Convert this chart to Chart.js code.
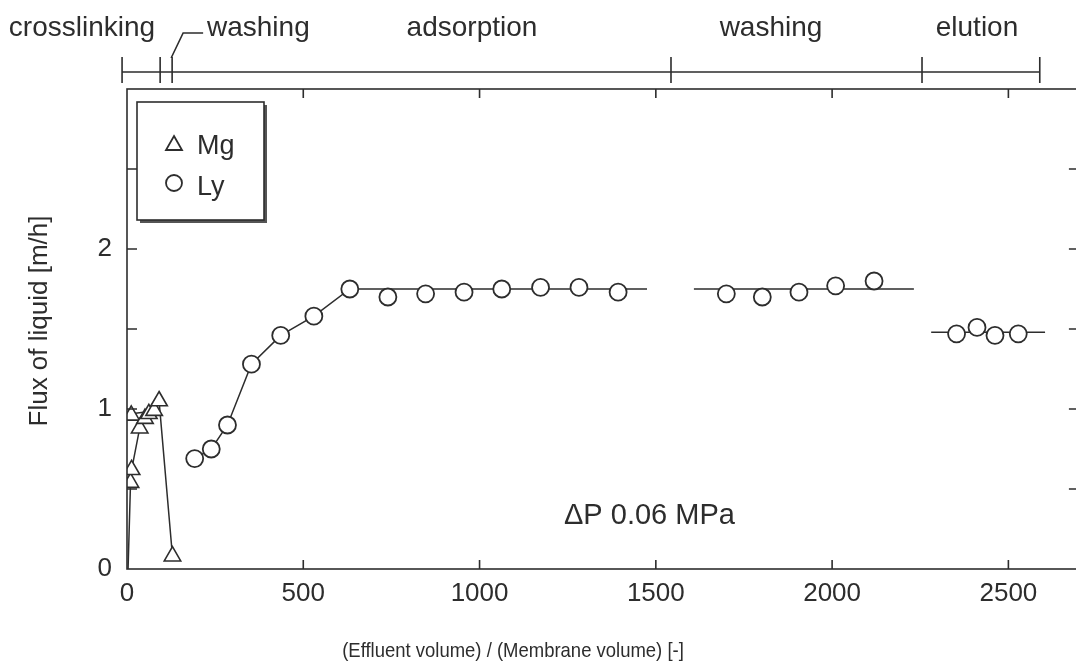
<!DOCTYPE html>
<html>
<head>
<meta charset="utf-8">
<script src="https://cdn.jsdelivr.net/npm/chart.js@4"></script>
<style>
  html, body { margin: 0; background: #fff; overflow: hidden; }
  canvas { display: block; }
</style>
</head>
<body>
<canvas id="flux-graph" width="1090" height="664"></canvas>
<script>
// values
const mgVolume = [10, 13, 12, 36, 51, 62, 77, 91, 129]
const mgFlux   = [0.54, 0.62, 0.96, 0.88, 0.94, 0.97, 0.99, 1.05, 0.08]

const lyVolume = [192, 239, 285, 353, 436, 530, 632, 740, 847, 956, 1063, 1173, 1282, 1393,
                  1700, 1802, 1906, 2010, 2119,
                  2353, 2411, 2462, 2528]
const lyFlux   = [0.69, 0.75, 0.90, 1.28, 1.46, 1.58, 1.75, 1.70, 1.72, 1.73, 1.75, 1.76, 1.76, 1.73,
                  1.72, 1.70, 1.73, 1.77, 1.80,
                  1.47, 1.51, 1.46, 1.47]

// connecting lines drawn in the figure (null = break)
const mgLineVolume = [3, 10, 13, 36, 51, 62, 77, 91, 129, null, 12, 88]
const mgLineFlux   = [0, 0.54, 0.62, 0.88, 0.94, 0.97, 0.99, 1.05, 0.08, null, 0.97, 0.99]
const lyLineVolume = [192, 239, 285, 353, 436, 530, 632, 1475, null, 1608, 2232, null, 2281, 2604]
const lyLineFlux   = [0.69, 0.75, 0.90, 1.28, 1.46, 1.58, 1.75, 1.75, null, 1.75, 1.75, null, 1.48, 1.48]

const xTicks = [0, 500, 1000, 1500, 2000, 2500]
const yTicks = [0, 1, 2]

const phaseNames  = ['crosslinking', 'washing', 'adsorption', 'washing', 'elution']
const phaseBounds = [-14, 94, 128, 1543, 2255, 2589]

const ink = '#2d2d2d'
const font = '"Liberation Sans", Arial, Helvetica, sans-serif'

function toPoints(xs, ys){
    return xs.map((v, i) => (v === null ? { x: null, y: null } : { x: v, y: ys[i] }))
}

const decorations = {
    id: 'decorations',
    afterDraw(chart){
        const { ctx, chartArea: a, scales: { x, y } } = chart
        ctx.save()
        ctx.strokeStyle = ink
        ctx.fillStyle = ink
        ctx.lineWidth = 1.6

        // frame
        ctx.strokeRect(a.left, a.top, a.right - a.left, a.bottom - a.top)

        // inward ticks
        ctx.beginPath()
        x.ticks.forEach(t => {
            if (t.value <= 0) return
            const px = x.getPixelForValue(t.value)
            ctx.moveTo(px, a.bottom); ctx.lineTo(px, a.bottom - 9)
            ctx.moveTo(px, a.top); ctx.lineTo(px, a.top + 9)
        })
        y.ticks.forEach(t => {
            if (t.value <= 0 || t.value >= 3) return
            const py = y.getPixelForValue(t.value)
            ctx.moveTo(a.left, py); ctx.lineTo(a.left + 10, py)
            ctx.moveTo(a.right, py); ctx.lineTo(a.right - 10, py)
        })
        ctx.stroke()

        // phase bar on top
        const barY = 72
        ctx.beginPath()
        ctx.moveTo(x.getPixelForValue(phaseBounds[0]), barY)
        ctx.lineTo(x.getPixelForValue(phaseBounds[phaseBounds.length - 1]), barY)
        phaseBounds.forEach(b => {
            const px = x.getPixelForValue(b)
            ctx.moveTo(px, 57); ctx.lineTo(px, 83)
        })
        // leader to the short washing step
        const wx = x.getPixelForValue(phaseBounds[2])
        ctx.moveTo(wx - 1, 58); ctx.lineTo(wx + 11, 33); ctx.lineTo(wx + 31, 33)
        ctx.stroke()

        ctx.font = '28px ' + font
        ctx.textBaseline = 'alphabetic'
        const labelX = [82, 207, 472, 771, 977]
        phaseNames.forEach((name, i) => {
            ctx.textAlign = i === 1 ? 'left' : 'center'
            ctx.fillText(name, labelX[i], 36)
        })

        // legend box with shadow
        ctx.fillStyle = '#555'
        ctx.fillRect(140, 105, 127, 118)
        ctx.fillStyle = '#fff'
        ctx.fillRect(137, 102, 127, 118)
        ctx.strokeRect(137, 102, 127, 118)

        ctx.lineWidth = 1.8
        ctx.beginPath()
        ctx.moveTo(174, 136); ctx.lineTo(182, 150); ctx.lineTo(166, 150); ctx.closePath()
        ctx.stroke()
        ctx.beginPath()
        ctx.arc(174, 183, 8, 0, Math.PI * 2)
        ctx.stroke()

        ctx.fillStyle = ink
        ctx.font = '27px ' + font
        ctx.textAlign = 'left'
        ctx.fillText('Mg', 197, 154)
        ctx.fillText('Ly', 197, 195)

        // pressure note
        ctx.font = '29px ' + font
        ctx.fillText('ΔP 0.06 MPa', 564, 524)

        // axis titles
        ctx.save()
        ctx.translate(513, 651)
        ctx.scale(0.88, 1)
        ctx.font = '21px ' + font
        ctx.textAlign = 'center'
        ctx.textBaseline = 'middle'
        ctx.fillText('(Effluent volume) / (Membrane volume) [-]', 0, 0)
        ctx.restore()

        ctx.save()
        ctx.translate(40, 321)
        ctx.rotate(-Math.PI / 2)
        ctx.font = '26px ' + font
        ctx.textAlign = 'center'
        ctx.textBaseline = 'middle'
        ctx.fillText('Flux of liquid [m/h]', 0, 0)
        ctx.restore()

        ctx.restore()
    }
}

const ctx = document.getElementById('flux-graph').getContext('2d')
const fluxChart = new Chart(ctx, {
    type: 'scatter',
    data: {
        datasets: [
            {
                label: 'Mg',
                data: toPoints(mgVolume, mgFlux),
                pointStyle: 'triangle',
                pointRadius: 9.5,
                borderWidth: 1.6,
                borderColor: ink,
                backgroundColor: '#fff',
                showLine: false,
            },
            {
                label: 'Ly',
                data: toPoints(lyVolume, lyFlux),
                pointStyle: 'circle',
                pointRadius: 8.5,
                borderWidth: 1.8,
                borderColor: ink,
                backgroundColor: '#fff',
                showLine: false,
            },
            {
                label: 'Mg line',
                data: toPoints(mgLineVolume, mgLineFlux),
                showLine: true,
                spanGaps: false,
                pointRadius: 0,
                borderWidth: 1.5,
                borderColor: ink,
            },
            {
                label: 'Ly line',
                data: toPoints(lyLineVolume, lyLineFlux),
                showLine: true,
                spanGaps: false,
                pointRadius: 0,
                borderWidth: 1.5,
                borderColor: ink,
            },
        ]
    },
    options: {
        responsive: false,
        animation: false,
        devicePixelRatio: 1,
        layout: { padding: { left: 0, top: 89, right: 11, bottom: 0 } },
        plugins: {
            legend: { display: false },
            tooltip: { enabled: false },
        },
        scales: {
            x: {
                type: 'linear',
                min: 0,
                max: 2700,
                border: { display: false },
                grid: { display: false, drawTicks: false },
                afterBuildTicks: s => { s.ticks = xTicks.map(v => ({ value: v })) },
                afterFit: s => { s.height = 95 },
                ticks: {
                    padding: 9,
                    color: ink,
                    font: { family: font, size: 26 },
                    maxRotation: 0,
                    callback: v => String(v),
                },
            },
            y: {
                min: 0,
                max: 3,
                border: { display: false },
                grid: { display: false, drawTicks: false },
                afterBuildTicks: s => {
                    s.ticks = [0, 0.5, 1, 1.5, 2, 2.5, 3].map(v => ({ value: v }))
                },
                afterFit: s => { s.width = 127 },
                ticks: {
                    padding: 15,
                    color: ink,
                    font: { family: font, size: 26 },
                    callback: v => (yTicks.includes(v) ? String(v) : ''),
                },
            },
        },
    },
    plugins: [decorations],
})
</script>
</body>
</html>
